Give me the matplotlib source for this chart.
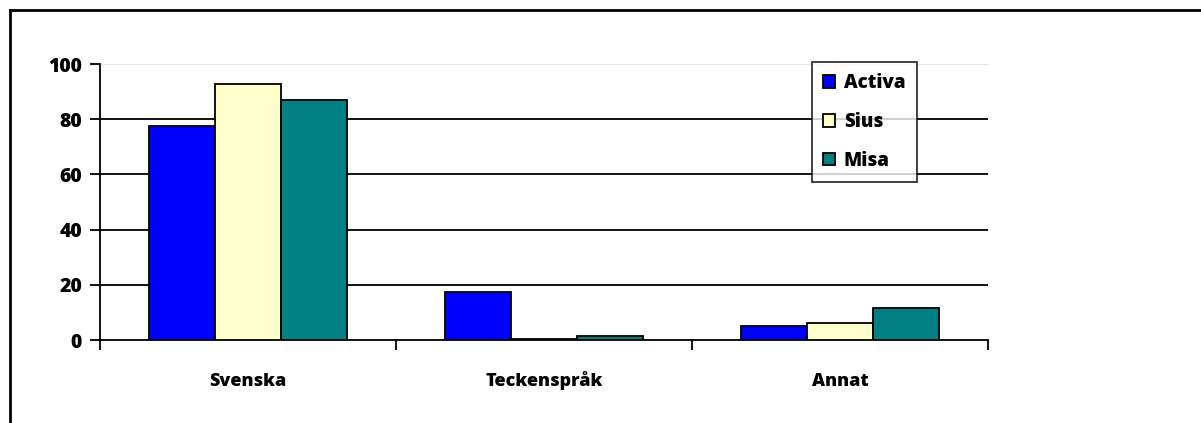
import matplotlib.pyplot as plt
import numpy as np
from matplotlib.lines import Line2D

categories = ['Svenska', 'Teckenspråk', 'Annat']
series = ['Activa', 'Sius', 'Misa']
activa = [77.5, 17.4, 5.2]
sius = [92.8, 0.5, 6.2]
misa = [87.0, 1.5, 11.6]
colors = ['#0000FF', '#FFFFCC', '#008080']

plt.rcParams['font.family'] = ['Open Sans', 'DejaVu Sans']

fig = plt.figure(figsize=(12.01, 4.23), dpi=100)
ax = fig.add_axes([100 / 1201, 1 - 340 / 423, 888 / 1201, 276 / 423])

x = np.arange(len(categories))
w = 0.223
for i, (vals, c, name) in enumerate(zip([activa, sius, misa], colors, series)):
    ax.bar(x + (i - 1) * w, vals, w, color=c, edgecolor='black', linewidth=1.3,
           label=name, zorder=3)

ax.set_xlim(-0.5, 2.5)
ax.set_ylim(0, 100)
ax.set_yticks([0, 20, 40, 60, 80, 100])
for v in [20, 40, 60, 80]:
    ax.axhline(v, color='black', linewidth=1.3, zorder=1)
ax.axhline(100, color='#e8e8e8', linewidth=1.0, zorder=1)

ax.set_xticks([-0.5, 0.5, 1.5, 2.5])
ax.set_xticklabels([])
ax.set_xticks(x, minor=True)
ax.set_xticklabels(categories, minor=True, fontsize=13, fontweight='heavy',
                   va='baseline')
ax.tick_params(axis='x', which='minor', length=0, pad=33)
ax.tick_params(axis='x', which='major', length=7, width=1.3, direction='out')
ax.tick_params(axis='y', length=7, width=1.3, direction='out', labelsize=14, pad=6)
for lab in ax.get_yticklabels():
    lab.set_fontweight('heavy')

for s in ['top', 'right']:
    ax.spines[s].set_visible(False)
for s in ['left', 'bottom']:
    ax.spines[s].set_linewidth(1.3)

leg = ax.legend(loc='upper left', bbox_to_anchor=(712 / 888, 278 / 276), frameon=True,
                fancybox=False, edgecolor='black', prop={'weight': 'heavy', 'size': 13.5},
                handlelength=0.65, handleheight=0.65, handletextpad=0.45,
                labelspacing=1.0, borderpad=0.6, borderaxespad=0)
leg.get_frame().set_linewidth(1.3)

# outer chart frame (top and left edges)
fig.add_artist(Line2D([10 / 1201, 10 / 1201], [0, 1 - 10 / 423], transform=fig.transFigure,
                      color='black', linewidth=2))
fig.add_artist(Line2D([10 / 1201, 1], [1 - 10 / 423, 1 - 10 / 423], transform=fig.transFigure,
                      color='black', linewidth=2))

fig.savefig('out.png', dpi=100)
